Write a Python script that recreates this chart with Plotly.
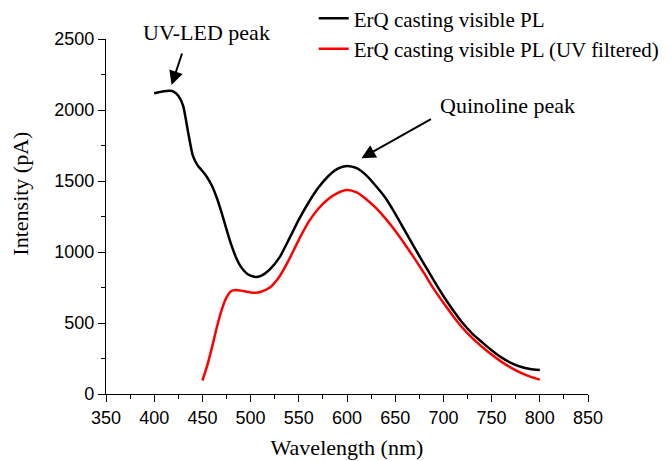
import plotly.graph_objects as go

# Black series: ErQ casting visible PL
wl_black = [400, 410, 416, 420, 425, 430, 435, 440, 445, 450, 455, 460, 465, 470, 475, 480, 485, 490, 495,
            500, 505, 510, 520, 530, 540, 550, 560, 570, 580, 590, 600, 610, 620, 630, 640, 650, 660,
            670, 680, 690, 700, 710, 720, 730, 740, 750, 760, 770, 780, 790, 800]
pl_black = [2118, 2132, 2136, 2130, 2100, 2030, 1850, 1680, 1610, 1570, 1525, 1465, 1380, 1275, 1160, 1050, 960, 895, 855,
            833, 824, 830, 878, 962, 1092, 1228, 1347, 1450, 1530, 1585, 1606, 1590, 1540, 1465, 1380, 1270, 1150,
            1030, 915, 800, 690, 590, 500, 425, 365, 308, 258, 220, 192, 176, 169]

# Red series: UV filtered
wl_red = [450, 455, 460, 465, 470, 475, 480, 485, 490, 500, 505, 510, 520, 530, 540, 550, 560, 570, 580,
          590, 600, 610, 620, 630, 640, 650, 660, 670, 680, 690, 700, 710, 720, 730, 740, 750, 760,
          770, 780, 790, 800]
pl_red = [95, 200, 330, 470, 592, 680, 725, 733, 728, 715, 713, 718, 750, 828, 948, 1085, 1210, 1303, 1370,
          1415, 1437, 1420, 1372, 1310, 1235, 1150, 1055, 955, 850, 740, 642, 550, 465, 393, 333, 278, 228,
          186, 150, 122, 101]

x_ticks = [350, 400, 450, 500, 550, 600, 650, 700, 750, 800, 850]
y_ticks = [0, 500, 1000, 1500, 2000, 2500]

SERIF = "Liberation Serif, Times New Roman, serif"
SANS = "Liberation Sans, Arial, sans-serif"

fig = go.Figure()
fig.add_trace(go.Scatter(x=wl_black, y=pl_black, mode="lines", name="ErQ casting visible PL",
                         line=dict(color="black", width=2.5, shape="spline", smoothing=0.6)))
fig.add_trace(go.Scatter(x=wl_red, y=pl_red, mode="lines", name="ErQ casting visible PL (UV filtered)",
                         line=dict(color="#ff0000", width=2.5, shape="spline", smoothing=0.6)))

axis_common = dict(showgrid=False, zeroline=False, showline=True, linecolor="black", linewidth=1.3,
                   ticks="outside", ticklen=7, tickwidth=1.3, tickcolor="black",
                   tickfont=dict(family=SANS, size=18, color="black"))

fig.update_xaxes(range=[350, 850], tickvals=x_ticks, ticktext=[str(v) for v in x_ticks],
                 minor=dict(dtick=25, ticks="outside", ticklen=4, tickwidth=1.3, tickcolor="black"),
                 title=dict(text="Wavelength (nm)", font=dict(family=SERIF, size=22, color="black"), standoff=12),
                 **axis_common)
fig.update_yaxes(range=[0, 2500], tickvals=y_ticks, ticktext=[str(v) for v in y_ticks],
                 minor=dict(dtick=250, ticks="outside", ticklen=4, tickwidth=1.3, tickcolor="black"),
                 **axis_common)

fig.add_annotation(text="Intensity (pA)", xref="paper", yref="paper", x=-0.178, y=0.565,
                   xanchor="center", yanchor="middle",
                   textangle=-90, showarrow=False, font=dict(family=SERIF, size=22, color="black"))

# Arrows
fig.add_annotation(x=418, y=2176, ax=11, ay=-33, text="", showarrow=True, arrowhead=2, arrowsize=1.4,
                   arrowwidth=2, arrowcolor="black")
fig.add_annotation(x=615, y=1660, ax=71, ay=-40, text="", showarrow=True, arrowhead=2, arrowsize=1.4,
                   arrowwidth=2, arrowcolor="black")
fig.add_annotation(x=0.2075, y=1.017, xref="paper", yref="paper", text="UV-LED peak", showarrow=False,
                   xanchor="center", yanchor="middle",
                   font=dict(family=SERIF, size=22, color="black"))
fig.add_annotation(x=766, y=2035, text="Quinoline peak", showarrow=False,
                   font=dict(family=SERIF, size=22, color="black"))

fig.update_layout(
    width=671, height=461,
    margin=dict(l=106, r=83, t=39, b=67, autoexpand=False),
    paper_bgcolor="white", plot_bgcolor="white",
    showlegend=True,
    legend=dict(x=0.431, y=1.115, xanchor="left", yanchor="top", bgcolor="rgba(0,0,0,0)",
                font=dict(family=SERIF, size=21, color="black"), tracegroupgap=0,
                itemwidth=30),
)

fig.write_html("out.html")
